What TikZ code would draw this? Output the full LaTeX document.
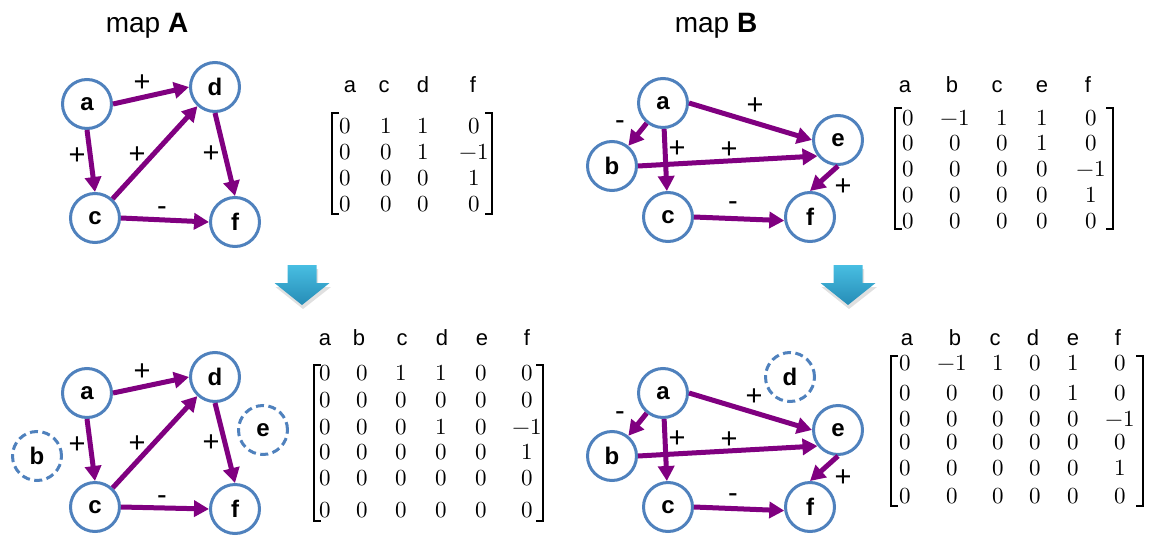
\documentclass[tikz,border=0pt]{standalone}
\usepackage{unicode-math}
\setmainfont{Liberation Sans}
\usetikzlibrary{arrows.meta,calc}

\definecolor{nodeblue}{RGB}{79,129,189}
\definecolor{linkpurple}{RGB}{128,0,128}
\definecolor{dntop}{RGB}{72,190,226}
\definecolor{dnbot}{RGB}{38,140,182}

\tikzset{
  concept/.style={circle, draw=nodeblue, line width=3pt, fill=white,
    minimum size=49pt, inner sep=0pt, font=\fontsize{24}{24}\selectfont\bfseries},
  absent/.style={concept, dash pattern=on 8pt off 4.5pt},
  link/.style={draw=linkpurple, line width=5pt, -{Triangle[length=15pt,width=16pt]}},
  sign/.style={font=\fontsize{29}{29}\selectfont, inner sep=0pt},
  maptitle/.style={font=\fontsize{28}{28}\selectfont, anchor=base, inner sep=0pt},
  hdr/.style={font=\fontsize{22}{22}\selectfont, anchor=base, inner sep=0pt},
  ment/.style={font=\fontsize{23}{23}\selectfont, anchor=base, inner sep=0pt},
  bracket/.style={line width=1.4pt},
}

% one row of a matrix: #1 prefix, #2 row number, #3 baseline, #4 entries
\newcommand\mrow[4]{%
  \foreach \vv [count=\cc] in {#4} {%
    \pgfmathsetmacro\xx{{\mcols}[\cc-1]}%
    \node[ment] (#1-#2-\cc) at (\xx,#3) {$\vv$};
  }%
}
% column headers: #1 prefix, #2 baseline, #3 labels
\newcommand\mhead[3]{%
  \foreach \vv [count=\cc] in {#3} {%
    \pgfmathsetmacro\xx{{\hcols}[\cc-1]}%
    \node[hdr] (#1-h\cc) at (\xx,#2) {\vv};
  }%
}
% square brackets: #1 left x, #2 right x, #3 top, #4 bottom
\newcommand\mbrackets[4]{%
  \draw[bracket] ($(#1,#3)+(7,0)$) -- (#1,#3) -- (#1,#4) -- ($(#1,#4)+(7,0)$);
  \draw[bracket] ($(#2,#3)+(-7,0)$) -- (#2,#3) -- (#2,#4) -- ($(#2,#4)+(-7,0)$);
}
% block arrow pointing down, centred on x = #1
\newcommand\blockdown[1]{%
  \fill[black, opacity=0.12] ($(#1,265)+(-13,4)$) -- ++(29,0) -- ++(0,18) -- ++(13,0)
     -- ($(#1,305)+(1,4)$) -- ($(#1,283)+(-26.5,4)$) -- ++(13,0) -- cycle;
  \shade[top color=dntop, bottom color=dnbot]
     ($(#1,265)+(-14.5,0)$) -- ($(#1,265)+(14.5,0)$) -- ($(#1,283)+(14.5,0)$)
     -- ($(#1,283)+(27.5,0)$) -- (#1,305) -- ($(#1,283)+(-27.5,0)$)
     -- ($(#1,283)+(-14.5,0)$) -- cycle;
}

\begin{document}
\begin{tikzpicture}[x=1pt, y=-1pt]
\useasboundingbox (0,0) rectangle (1151,538);

% ---------- titles ----------
\node[maptitle] (tA) at (147,32) {map \textbf{A}};
\node[maptitle] (tB) at (716,32) {map \textbf{B}};

% ---------- map A ----------
\node[concept] (Aa) at (87,104) {a};
\node[concept] (Ad) at (215,87) {d};
\node[concept] (Ac) at (95,218) {c};
\node[concept] (Af) at (235,222) {f};
\draw[link] (Aa.east) -- (Ad.west);
\draw[link] (Aa.south) -- (Ac.north);
\draw[link] (Ac) -- (Ad);
\draw[link] (Ad.south) -- (Af.north);
\draw[link] (Ac.east) -- (Af.west);
\node[sign] (sA1) at (142,83) {+};
\node[sign] (sA2) at (77,156) {+};
\node[sign] (sA3) at (137,155) {+};
\node[sign] (sA4) at (211,154) {+};
\node[sign] (sA5) at (162,211) {-};

% matrix of map A
\def\hcols{350,384,423,473}
\mhead{mA}{92}{a,c,d,f}
\def\mcols{345,386,423,474}
\mrow{mA}{1}{133}{0,1,1,0}
\mrow{mA}{2}{159}{0,0,1,-1}
\mrow{mA}{3}{185}{0,0,0,1}
\mrow{mA}{4}{211}{0,0,0,0}
\mbrackets{332}{492}{113}{214}

% ---------- map B ----------
\node[concept] (Ba) at (663,103) {a};
\node[concept] (Bb) at (612,166) {b};
\node[concept] (Bc) at (668,217) {c};
\node[concept] (Be) at (838,140) {e};
\node[concept] (Bf) at (810,217) {f};
\draw[link] (Ba) -- (Bb);
\draw[link] (Bb.east) -- (Be.218);
\draw[link] (Ba) -- (Bc);
\draw[link] (Ba.east) -- (Be.west);
\draw[link] (Be.south) -- (Bf.north);
\draw[link] (Bc.east) -- (Bf.188);
\node[sign] (sB1) at (620,125) {-};
\node[sign] (sB2) at (677,149) {+};
\node[sign] (sB3) at (729,150) {+};
\node[sign] (sB4) at (755,106) {+};
\node[sign] (sB5) at (843,187) {+};
\node[sign] (sB6) at (733,206) {-};

% matrix of map B
\def\hcols{905,952,997,1042,1088}
\mhead{mB}{92}{a,b,c,e,f}
\def\mcols{908,955,1002,1042,1091}
\mrow{mB}{1}{125}{0,-1,1,1,0}
\mrow{mB}{2}{150}{0,0,0,1,0}
\mrow{mB}{3}{176}{0,0,0,0,-1}
\mrow{mB}{4}{202}{0,0,0,0,1}
\mrow{mB}{5}{228}{0,0,0,0,0}
\mbrackets{895}{1113}{108}{229}

% ---------- transition arrows ----------
\blockdown{302}
\blockdown{848}

% ---------- extended map A ----------
\node[concept] (A2a) at (87,393) {a};
\node[concept] (A2d) at (215,377) {d};
\node[concept] (A2c) at (95,507) {c};
\node[concept] (A2f) at (235,509) {f};
\node[absent] (A2b) at (37,456) {b};
\node[absent] (A2e) at (263,430) {e};
\draw[link] (A2a.east) -- (A2d.west);
\draw[link] (A2a.south) -- (A2c.north);
\draw[link] (A2c) -- (A2d);
\draw[link] (A2d.south) -- (A2f.north);
\draw[link] (A2c.east) -- (A2f.west);
\node[sign] (sA6) at (142,372) {+};
\node[sign] (sA7) at (77,445) {+};
\node[sign] (sA8) at (137,444) {+};
\node[sign] (sA9) at (211,443) {+};
\node[sign] (sA10) at (162,500) {-};

\def\hcols{325,359,402,442,482,527}
\mhead{mA2}{345}{a,b,c,d,e,f}
\def\mcols{325,362,401,441,481,527}
\mrow{mA2}{1}{380}{0,0,1,1,0,0}
\mrow{mA2}{2}{407}{0,0,0,0,0,0}
\mrow{mA2}{3}{434}{0,0,0,1,0,-1}
\mrow{mA2}{4}{459}{0,0,0,0,0,1}
\mrow{mA2}{5}{485}{0,0,0,0,0,0}
\mrow{mA2}{6}{517}{0,0,0,0,0,0}
\mbrackets{314}{543}{365}{521}

% ---------- extended map B ----------
\node[concept] (B2a) at (663,393) {a};
\node[concept] (B2b) at (612,456) {b};
\node[concept] (B2c) at (668,507) {c};
\node[concept] (B2e) at (838,430) {e};
\node[concept] (B2f) at (810,507) {f};
\node[absent] (B2d) at (790,377) {d};
\draw[link] (B2a) -- (B2b);
\draw[link] (B2b.east) -- (B2e.218);
\draw[link] (B2a) -- (B2c);
\draw[link] (B2a.east) -- (B2e.west);
\draw[link] (B2e.south) -- (B2f.north);
\draw[link] (B2c.east) -- (B2f.188);
\node[sign] (sB7) at (620,416) {-};
\node[sign] (sB8) at (677,439) {+};
\node[sign] (sB9) at (729,440) {+};
\node[sign] (sB10) at (754,397) {+};
\node[sign] (sB11) at (843,478) {+};
\node[sign] (sB12) at (733,498) {-};

\def\hcols{907,955,995,1033,1073,1118}
\mhead{mB2}{345}{a,b,c,d,e,f}
\def\mcols{905,952,998,1035,1073,1120}
\mrow{mB2}{1}{370}{0,-1,1,0,1,0}
\mrow{mB2}{2}{400}{0,0,0,0,1,0}
\mrow{mB2}{3}{426}{0,0,0,0,0,-1}
\mrow{mB2}{4}{449}{0,0,0,0,0,0}
\mrow{mB2}{5}{475}{0,0,0,0,0,1}
\mrow{mB2}{6}{503}{0,0,0,0,0,0}
\mbrackets{891}{1143}{356}{506}

\end{tikzpicture}
\end{document}
